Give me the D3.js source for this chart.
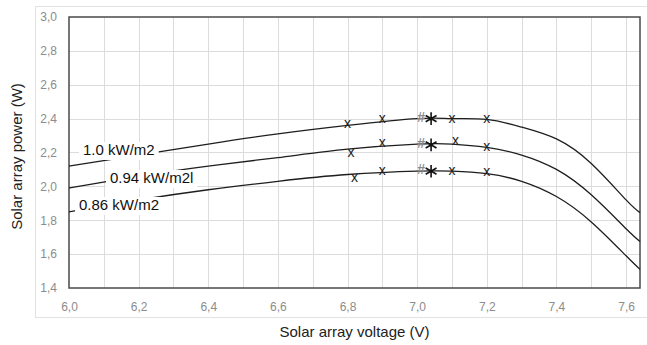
<!DOCTYPE html>
<html>
<head>
<meta charset="utf-8">
<script src="https://cdn.jsdelivr.net/npm/d3@7"></script>
<style>
  body { margin: 0; background: #fff; }
  svg { display: block; font-family: "Liberation Sans", Arial, sans-serif; }
</style>
</head>
<body>
<div id="chart"></div>
<script>
// curve data
var voltage = [6.0, 6.2, 6.4, 6.6, 6.8, 7.0, 7.1, 7.2, 7.3, 7.4, 7.5, 7.6, 7.64];
var power100 = [2.12, 2.185, 2.25, 2.31, 2.36, 2.40, 2.40, 2.395, 2.35, 2.28, 2.135, 1.92, 1.845];
var power094 = [1.99, 2.06, 2.12, 2.17, 2.22, 2.25, 2.25, 2.23, 2.185, 2.10, 1.95, 1.75, 1.675];
var power086 = [1.85, 1.92, 1.98, 2.03, 2.07, 2.09, 2.09, 2.075, 2.03, 1.94, 1.79, 1.59, 1.51];
var curveLabels = ["1.0 kW/m2", "0.94 kW/m2l", "0.86 kW/m2"];

// measured points ("x" marks)
var markV100 = [6.80, 6.90, 7.10, 7.20];
var markP100 = [2.37, 2.40, 2.40, 2.40];
var markV094 = [6.81, 6.90, 7.11, 7.20];
var markP094 = [2.20, 2.255, 2.27, 2.23];
var markV086 = [6.82, 6.90, 7.10, 7.20];
var markP086 = [2.05, 2.09, 2.09, 2.085];
// maximum power points ("*" and "#")
var mppV = 7.04;
var mppP = [2.40, 2.245, 2.09];

var xTicks = [6.0, 6.2, 6.4, 6.6, 6.8, 7.0, 7.2, 7.4, 7.6];
var yTicks = [1.4, 1.6, 1.8, 2.0, 2.2, 2.4, 2.6, 2.8, 3.0];

var width = 647, height = 345;
var margin = {left: 69, top: 17, right: 7, bottom: 57};

var svg = d3.select("#chart").append("svg")
    .attr("width", width)
    .attr("height", height);

// outer chart frame
svg.append("rect")
    .attr("x", 35.5).attr("y", 6.5)
    .attr("width", width - 35).attr("height", 311)
    .attr("fill", "none")
    .attr("stroke", "#e2e2e2");

var x = d3.scaleLinear().domain([6.0, 7.64]).range([margin.left, width - margin.right]);
var y = d3.scaleLinear().domain([1.4, 3.0]).range([height - margin.bottom, margin.top]);

var fmt = function(d){ return d3.format(".1f")(d).replace(".", ","); };

// grid
var grid = svg.append("g").attr("stroke", "#dcdcdc").attr("stroke-width", 1);
grid.selectAll("line.v")
    .data(d3.range(61, 77).map(function(d){ return d / 10; }))
    .enter().append("line")
    .attr("x1", function(d){ return Math.round(x(d)) + 0.5; })
    .attr("x2", function(d){ return Math.round(x(d)) + 0.5; })
    .attr("y1", y(3.0)).attr("y2", y(1.4));
grid.selectAll("line.h")
    .data(yTicks.slice(1, -1))
    .enter().append("line")
    .attr("y1", function(d){ return Math.round(y(d)) + 0.5; })
    .attr("y2", function(d){ return Math.round(y(d)) + 0.5; })
    .attr("x1", x(6.0)).attr("x2", x(7.64));

// axes (labels only, Excel style)
var xAxis = svg.append("g")
    .attr("transform", "translate(0," + (height - margin.bottom) + ")")
    .call(d3.axisBottom(x).tickValues(xTicks).tickFormat(fmt).tickSize(0).tickPadding(14));
var yAxis = svg.append("g")
    .attr("transform", "translate(" + margin.left + ",0)")
    .call(d3.axisLeft(y).tickValues(yTicks).tickFormat(fmt).tickSize(0).tickPadding(12));
[xAxis, yAxis].forEach(function(a){
    a.select(".domain").remove();
    a.selectAll("text")
        .attr("fill", "#8c8c8c")
        .style("font-size", "12px")
        .style("font-family", "Liberation Sans, Arial, sans-serif");
});

// plot frame
svg.append("rect")
    .attr("x", x(6.0)).attr("y", y(3.0))
    .attr("width", x(7.64) - x(6.0)).attr("height", y(1.4) - y(3.0))
    .attr("fill", "none")
    .attr("stroke", "#4a4a4a")
    .attr("stroke-width", 1.5);

// curves
var series = [power100, power094, power086];
var line = d3.line()
    .x(function(d){ return x(d[0]); })
    .y(function(d){ return y(d[1]); })
    .curve(d3.curveNatural);
svg.append("g").selectAll("path")
    .data(series)
    .enter().append("path")
    .attr("d", function(s){ return line(voltage.map(function(v, i){ return [v, s[i]]; })); })
    .attr("fill", "none")
    .attr("stroke", "#1e1e1e")
    .attr("stroke-width", 1.3);

// curve labels on white boxes
var labelPos = [[83, 155], [110, 183], [79, 210]];
var labels = svg.append("g").selectAll("g")
    .data(curveLabels)
    .enter().append("g");
labels.append("rect").attr("fill", "#fff");
labels.append("text")
    .attr("x", function(d, i){ return labelPos[i][0]; })
    .attr("y", function(d, i){ return labelPos[i][1]; })
    .attr("fill", "#111")
    .style("font-size", "15px")
    .text(function(d){ return d; });
labels.each(function(){
    var g = d3.select(this);
    var b = g.select("text").node().getBBox();
    g.select("rect")
        .attr("x", b.x - 4).attr("y", b.y + 1)
        .attr("width", b.width + 8).attr("height", b.height + 1);
});

// markers
var marks = [[markV100, markP100], [markV094, markP094], [markV086, markP086]];
var mk = svg.append("g")
    .style("font-size", "14px")
    .attr("text-anchor", "middle")
    .attr("dominant-baseline", "central");
marks.forEach(function(m){
    mk.selectAll(null)
        .data(m[0])
        .enter().append("text")
        .attr("x", function(d){ return x(d); })
        .attr("y", function(d, i){ return y(m[1][i]) - 1; })
        .attr("fill", "#222")
        .text("x");
});
mk.selectAll(null)
    .data(mppP)
    .enter().append("text")
    .attr("x", x(mppV) - 10)
    .attr("y", function(d){ return y(d) - 2; })
    .attr("fill", "#8a8a8a")
    .style("font-size", "14px")
    .style("font-weight", "bold")
    .text("#");
var star = d3.symbol().type(d3.symbolAsterisk).size(110);
svg.append("g").selectAll("path")
    .data(mppP)
    .enter().append("path")
    .attr("d", star)
    .attr("transform", function(d){ return "translate(" + x(mppV) + "," + y(d) + ")"; })
    .attr("fill", "none")
    .attr("stroke", "#111")
    .attr("stroke-width", 1.6);

// axis titles
svg.append("text")
    .attr("x", (x(6.0) + x(7.64)) / 2)
    .attr("y", 337)
    .attr("text-anchor", "middle")
    .attr("fill", "#222")
    .style("font-size", "15px")
    .text("Solar array voltage (V)");
svg.append("text")
    .attr("transform", "translate(22," + ((y(1.4) + y(3.0)) / 2 + 4) + ")rotate(-90)")
    .attr("text-anchor", "middle")
    .attr("fill", "#222")
    .style("font-size", "15px")
    .text("Solar array power (W)");
</script>
</body>
</html>
